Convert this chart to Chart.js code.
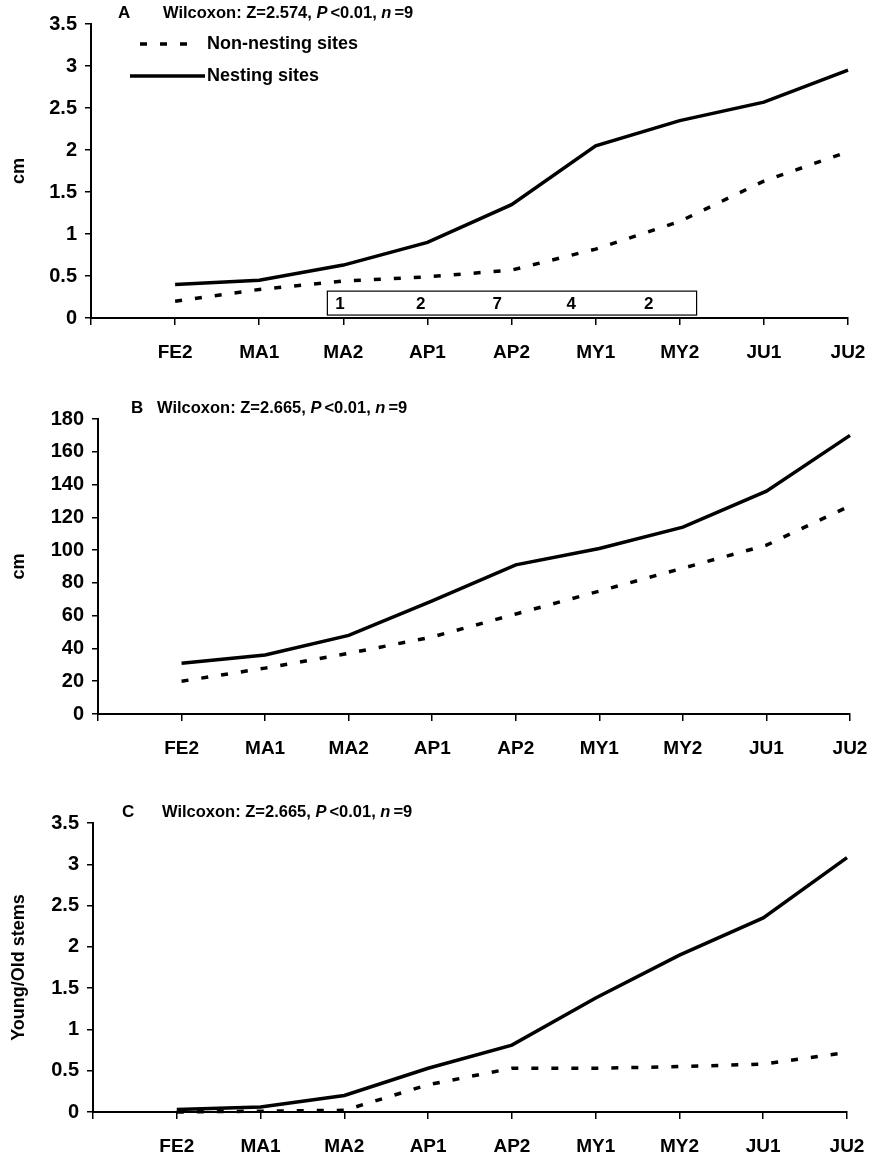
<!DOCTYPE html>
<html>
<head>
<meta charset="utf-8">
<script src="https://cdn.jsdelivr.net/npm/chart.js@4.4.0/dist/chart.umd.min.js"></script>
<style>
body { margin: 0; background: #fff; width: 878px; height: 1162px; overflow: hidden; position: relative; }
canvas { position: absolute; left: 0; }
</style>
</head>
<body>
<canvas id="chartA"></canvas>
<canvas id="chartB"></canvas>
<canvas id="chartC"></canvas>
<script>
// periods along the x axis (first slot is left empty)
const categories = ['FE2', 'MA1', 'MA2', 'AP1', 'AP2', 'MY1', 'MY2', 'JU1', 'JU2'];

// A: stem length (cm)
const lengthNesting = [0.40, 0.45, 0.63, 0.90, 1.35, 2.05, 2.35, 2.57, 2.95];
const lengthNonNesting = [0.20, 0.34, 0.44, 0.49, 0.57, 0.82, 1.15, 1.63, 1.98];
// B: stem height (cm)
const heightNesting = [31, 36, 48, 69, 91, 101, 114, 136, 170];
const heightNonNesting = [20, 28, 37, 47, 61, 75, 89, 103, 127];
// C: young / old stems
const ratioNesting = [0.03, 0.06, 0.20, 0.53, 0.81, 1.38, 1.90, 2.35, 3.08];
const ratioNonNesting = [0.00, 0.01, 0.02, 0.33, 0.53, 0.53, 0.55, 0.58, 0.72];

const ticksA = [0, 0.5, 1, 1.5, 2, 2.5, 3, 3.5];
const ticksB = [0, 20, 40, 60, 80, 100, 120, 140, 160, 180];
const ticksC = [0, 0.5, 1, 1.5, 2, 2.5, 3, 3.5];

const panelLetters = ['A', 'B', 'C'];
const zValues = ['2.574', '2.665', '2.665'];
const pValue = '0.01';
const nValue = '9';
const yTitles = ['cm', 'cm', 'Young/Old stems'];
const seriesNames = ['Non-nesting sites', 'Nesting sites'];
const boxCounts = [1, 2, 7, 4, 2];

const FONT = '"Liberation Sans", Arial, Helvetica, sans-serif';
const XH = 54;
const DASH = [7, 13];

Chart.defaults.font.family = FONT;
Chart.defaults.font.weight = 'bold';
Chart.defaults.font.size = 19;
Chart.defaults.color = '#000';

// page coordinates of each plot
const layouts = [
    {T: 0, H: 380, left: 91, right: 848, top: 24, bottom: 318, letterX: 118, textX: 163},
    {T: 380, H: 395, left: 98, right: 850, top: 419, bottom: 714, letterX: 131, textX: 157},
    {T: 775, H: 387, left: 93, right: 847, top: 823, bottom: 1112, letterX: 122, textX: 162}
];

function drawStatTitle(ctx, i, L) {
    const y = L.top - 11 - L.T;
    ctx.save();
    ctx.fillStyle = '#000';
    ctx.textBaseline = 'middle';
    ctx.font = 'bold 17px ' + FONT;
    ctx.fillText(panelLetters[i], L.letterX, y);
    const parts = [
        ['Wilcoxon: Z=' + zValues[i] + ', ', false, 0],
        ['P', true, 3],
        ['<' + pValue + ', ', false, 0],
        ['n', true, 3],
        ['=' + nValue, false, 0]
    ];
    let x = L.textX;
    parts.forEach(([t, italic, gap]) => {
        ctx.font = (italic ? 'italic ' : '') + 'bold 16.5px ' + FONT;
        ctx.fillText(t, x, y);
        x += ctx.measureText(t).width + gap;
    });
    ctx.restore();
}

function drawLegend(ctx) {
    ctx.save();
    ctx.strokeStyle = '#000';
    ctx.lineWidth = 3.5;
    ctx.setLineDash(DASH);
    ctx.beginPath();
    ctx.moveTo(140, 44);
    ctx.lineTo(194, 44);
    ctx.stroke();
    ctx.setLineDash([]);
    ctx.beginPath();
    ctx.moveTo(130, 76);
    ctx.lineTo(205, 76);
    ctx.stroke();
    ctx.fillStyle = '#000';
    ctx.textBaseline = 'middle';
    ctx.font = 'bold 18px ' + FONT;
    ctx.fillText(seriesNames[0], 207, 44);
    ctx.fillText(seriesNames[1], 207, 76);
    ctx.restore();
}

function drawCountBox(chart) {
    const {ctx, scales: {x, y}} = chart;
    const x0 = x.getPixelForValue(2.81), x1 = x.getPixelForValue(7.2);
    const y0 = y.getPixelForValue(0.32), y1 = y.getPixelForValue(0.035);
    const spots = [2.96, 3.92, 4.83, 5.71, 6.63];
    ctx.save();
    ctx.strokeStyle = '#000';
    ctx.lineWidth = 1.2;
    ctx.fillStyle = '#fff';
    ctx.fillRect(x0, y0, x1 - x0, y1 - y0);
    ctx.strokeRect(x0, y0, x1 - x0, y1 - y0);
    ctx.fillStyle = '#000';
    ctx.font = 'bold 17px ' + FONT;
    ctx.textAlign = 'center';
    ctx.textBaseline = 'middle';
    boxCounts.forEach((c, k) => {
        ctx.fillText(String(c), x.getPixelForValue(spots[k]), (y0 + y1) / 2 + 1);
    });
    ctx.restore();
}

function makeChart(id, i, nest, nonNest, yTicks) {
    const L = layouts[i];
    const canvas = document.getElementById(id);
    canvas.width = 878;
    canvas.height = L.H;
    canvas.style.top = L.T + 'px';
    canvas.style.width = '878px';
    canvas.style.height = L.H + 'px';

    const line = {
        borderColor: '#000',
        borderWidth: 3.5,
        pointRadius: 0,
        tension: 0,
        clip: false
    };

    return new Chart(canvas, {
        type: 'line',
        data: {
            labels: [''].concat(categories),
            datasets: [
                Object.assign({label: seriesNames[1], data: [null].concat(nest)}, line),
                Object.assign({label: seriesNames[0], data: [null].concat(nonNest), borderDash: DASH}, line)
            ]
        },
        options: {
            responsive: false,
            animation: false,
            events: [],
            layout: {
                padding: {
                    left: 0,
                    right: 878 - L.right,
                    top: L.top - L.T,
                    bottom: L.H - (L.bottom - L.T) - XH
                }
            },
            plugins: {
                legend: {display: false},
                tooltip: {enabled: false}
            },
            scales: {
                x: {
                    offset: false,
                    afterFit: (s) => {
                        s.height = XH;
                        s.paddingLeft = 0;
                        s.paddingRight = 0;
                    },
                    grid: {
                        drawOnChartArea: false,
                        color: '#000',
                        lineWidth: 1.5,
                        tickLength: 7
                    },
                    border: {color: '#000', width: 2},
                    ticks: {
                        autoSkip: false,
                        maxRotation: 0,
                        padding: 16,
                        font: {size: 19, weight: 'bold'}
                    }
                },
                y: {
                    min: yTicks[0],
                    max: yTicks[yTicks.length - 1],
                    afterFit: (s) => { s.width = L.left; },
                    afterBuildTicks: (s) => { s.ticks = yTicks.map(v => ({value: v})); },
                    grid: {
                        drawOnChartArea: false,
                        color: '#000',
                        lineWidth: 1.5,
                        tickLength: 6
                    },
                    border: {color: '#000', width: 2},
                    title: {
                        display: true,
                        text: yTitles[i],
                        font: {size: 18, weight: 'bold'},
                        padding: {top: 8, bottom: 0}
                    },
                    ticks: {
                        padding: 8,
                        font: {size: 20, weight: 'bold'},
                        callback: (v) => String(v)
                    }
                }
            }
        },
        plugins: [{
            id: 'annotations' + i,
            afterDraw(chart) {
                drawStatTitle(chart.ctx, i, L);
                if (i === 0) {
                    drawLegend(chart.ctx);
                    drawCountBox(chart);
                }
            }
        }]
    });
}

makeChart('chartA', 0, lengthNesting, lengthNonNesting, ticksA);
makeChart('chartB', 1, heightNesting, heightNonNesting, ticksB);
makeChart('chartC', 2, ratioNesting, ratioNonNesting, ticksC);
</script>
</body>
</html>
